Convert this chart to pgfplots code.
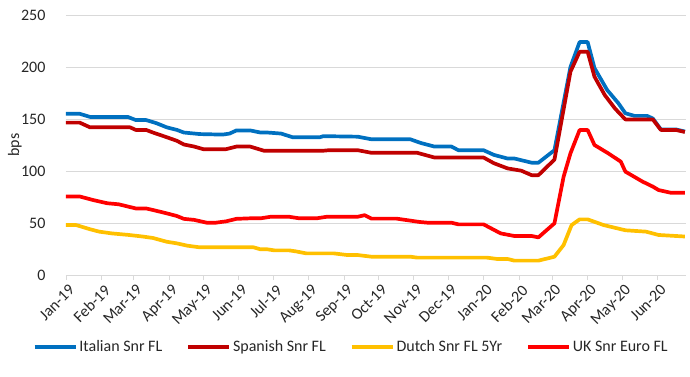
\documentclass[border=0pt]{standalone}
\usepackage{fontspec}
\setmainfont{Carlito}
\usepackage{pgfplots}
\pgfplotsset{compat=1.18}
\definecolor{cIta}{HTML}{0070C0}
\definecolor{cSpa}{HTML}{C00000}
\definecolor{cDut}{HTML}{FFC000}
\definecolor{cUK}{HTML}{FF0000}
\definecolor{cGrid}{HTML}{D9D9D9}
\definecolor{cTxt}{HTML}{262626}
\begin{document}
\fontsize{16bp}{19bp}\selectfont
\begin{tikzpicture}
\useasboundingbox (-66bp,-102bp) rectangle (624bp,275bp);
\begin{axis}[
  at={(0,0)}, anchor=south west,
  scale only axis, width=620bp, height=260bp,
  xmin=0, xmax=542, ymin=0, ymax=250,
  ytick={0,50,100,150,200,250},
  xtick={0,31,59,90,120,151,181,212,243,273,304,334,365,396,425,456,486,517},
  xticklabels={Jan-19,Feb-19,Mar-19,Apr-19,May-19,Jun-19,Jul-19,Aug-19,Sep-19,Oct-19,Nov-19,Dec-19,Jan-20,Feb-20,Mar-20,Apr-20,May-20,Jun-20},
  xticklabel style={rotate=45, anchor=north east, font=\fontsize{16bp}{19bp}\selectfont, text=cTxt, inner sep=1bp, yshift=-3bp},
  yticklabel style={font=\fontsize{16bp}{19bp}\selectfont, text=cTxt, xshift=-10bp},
  /pgf/number format/assume math mode=true,
  axis lines*=left,
  x axis line style={cGrid, line width=0.75bp},
  y axis line style={draw=none},
  ytick style={draw=none},
  xtick style={cGrid, line width=0.75bp},
  tick align=outside, major tick length=5bp,
  ymajorgrids, grid style={cGrid, line width=0.75bp},
  ylabel={bps},
  ylabel style={at={(axis description cs:-0.0823,0.5)}, anchor=center, font=\fontsize{16bp}{19bp}\selectfont, text=cTxt},
  legend columns=4,
  legend style={at={(0.46,-0.277)}, anchor=center, draw=none, fill=none,
    font=\fontsize{16bp}{19bp}\selectfont, text=cTxt,
    /tikz/every even column/.append style={column sep=22bp},
    nodes={inner sep=2bp}},
  legend image code/.code={\draw[#1, line width=3.7bp] (0bp,0bp) -- (41bp,0bp);},
  every axis plot/.append style={line width=3.7bp, line join=round},
]
\addplot[cIta] coordinates {
(0,155)(12,155)(21,152)(54,152)(61,149)(70,149)(79,146)(88,142)(97,139.5)(103,137)(117,135.5)(137,135)(143,136)(149,139)(161,139)(170,137)(176,137)(188,136)(198,132.5)(222,132.5)(225,133.5)(255,133)(267,130.5)(301,130.5)(310,127)(322,123.5)(337,123.5)(343,120)(365,120)(374,115.5)(386,112)(392,112)(407,108)(413,108)(427,120)(441,200)(449,224)(456,224)(462,199)(473,178)(483,165)(489,155.5)(497,153)(508,153)(513,150.5)(520,140)(533,140)(541,138)
};
\addlegendentry{Italian Snr FL}
\addplot[cSpa] coordinates {
(0,146.5)(12,146.5)(21,142)(56,142)(61,139.5)(70,139.5)(76,137)(88,132.5)(97,129)(103,125.5)(112,123.5)(120,121)(140,121)(149,123.5)(161,123.5)(173,119.5)(225,119.5)(230,120)(255,120)(267,117.5)(307,117.5)(322,113)(365,113)(374,107.5)(386,102.5)(398,100.3)(407,96)(413,96)(427,111)(441,195.5)(449,214.7)(456,214.7)(462,190.7)(471,173)(480,160)(489,149.6)(513,149.6)(520,139.5)(533,139.5)(541,137.5)
};
\addlegendentry{Spanish Snr FL}
\addplot[cDut] coordinates {
(0,48)(9,48)(21,44)(29,41.7)(40,40)(55,38.5)(67,37)(76,35.6)(88,32)(97,30.4)(106,28.2)(117,26.6)(164,26.6)(170,24.7)(176,24.7)(182,23.7)(195,23.7)(201,22.7)(210,20.8)(234,20.8)(246,19.2)(255,19.2)(267,17.6)(301,17.6)(307,16.7)(368,16.7)(377,15.4)(386,15.4)(392,13.8)(413,13.8)(427,17.6)(435,28.8)(442,48)(449,53.5)(456,53.5)(470,48)(489,43)(507,41.7)(518,38.5)(541,37)
};
\addlegendentry{Dutch Snr FL 5Yr}
\addplot[cUK] coordinates {
(0,75.5)(12,75.5)(24,72)(36,69)(46,68)(61,64)(70,64)(76,62.5)(88,59.3)(97,56.7)(103,54)(112,53)(123,50.3)(131,50.3)(140,51.6)(149,54)(161,54.5)(170,54.5)(179,56)(195,56)(204,54.5)(219,54.5)(228,56)(255,56)(261,57.5)(267,54.2)(289,54.2)(309,51)(316,50.3)(337,50.3)(343,48.7)(365,48.7)(380,40)(392,37.5)(407,37.5)(413,36.2)(427,49.7)(435,94.5)(441,117)(449,139.4)(456,139.4)(462,125)(474,117)(485,109)(489,99.4)(504,89.8)(513,85)(518,81.7)(529,79)(541,79)
};
\addlegendentry{UK Snr Euro FL}
\end{axis}
\end{tikzpicture}
\end{document}
